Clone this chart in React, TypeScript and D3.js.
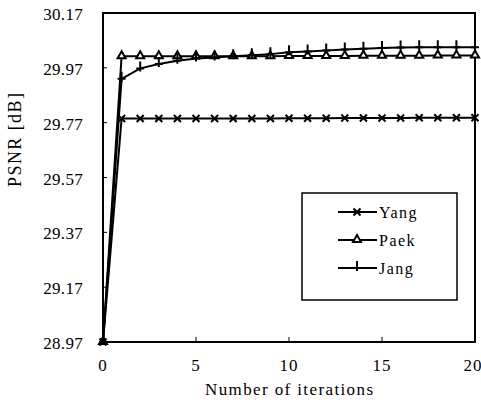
import * as d3 from 'd3';

const iterations = d3.range(0, 21);
const yang = [28.97, 29.785, 29.785, 29.785, 29.785, 29.785, 29.785, 29.785, 29.785, 29.785, 29.786, 29.786, 29.786, 29.787, 29.787, 29.787, 29.787, 29.788, 29.788, 29.788, 29.788];
const paek = [28.97, 30.012, 30.012, 30.012, 30.012, 30.012, 30.012, 30.012, 30.012, 30.012, 30.013, 30.013, 30.013, 30.013, 30.014, 30.014, 30.014, 30.014, 30.015, 30.015, 30.015];
const jang = [28.97, 29.93, 29.968, 29.984, 29.996, 30.004, 30.008, 30.012, 30.016, 30.02, 30.027, 30.03, 30.033, 30.037, 30.04, 30.042, 30.044, 30.045, 30.045, 30.045, 30.045];
const yTicks = [28.97, 29.17, 29.37, 29.57, 29.77, 29.97, 30.17];
const xTicks = [0, 5, 10, 15, 20];
const seriesNames = ['Yang', 'Paek', 'Jang'];

const W = 481, H = 404;
const M = { left: 103, right: 475, top: 13, bottom: 342 };
const font = "'Liberation Serif', 'Times New Roman', 'DejaVu Serif', serif";

function Marker({ kind, x, y }: { kind: string; x: number; y: number }) {
  if (kind === 'Yang') {
    return <path d={`M${x - 3.5},${y - 3.5}L${x + 3.5},${y + 3.5}M${x - 3.5},${y + 3.5}L${x + 3.5},${y - 3.5}`} stroke="#000" strokeWidth={2} />;
  }
  if (kind === 'Paek') {
    return <path d={`M${x},${y - 5}L${x + 4},${y + 2}L${x - 4},${y + 2}Z`} fill="#fff" stroke="#000" strokeWidth={2} />;
  }
  return <path d={`M${x},${y - 7}L${x},${y + 3}M${x - 4},${y}L${x + 4},${y}`} stroke="#000" strokeWidth={2} />;
}

export default function App() {
  const x = d3.scaleLinear().domain([0, 20]).range([M.left, M.right]);
  const y = d3.scaleLinear().domain([28.97, 30.17]).range([M.bottom, M.top]);
  const line = d3.line<number>().x((_, i) => x(iterations[i])).y(d => y(d));
  const series = [yang, paek, jang];
  const legendY = [212, 240, 268];

  return (
    <svg width={W} height={H} style={{ position: 'absolute', left: 0, top: 0, background: '#fff', fontFamily: font }}>
      <rect x={M.left} y={M.top} width={M.right - M.left} height={M.bottom - M.top} fill="none" stroke="#000" strokeWidth={2} />
      {yTicks.map(t => (
        <g key={t}>
          <line x1={M.left} x2={M.left + 4} y1={y(t)} y2={y(t)} stroke="#000" strokeWidth={1} />
          <text x={83} y={y(t) + 7} textAnchor="end" fontSize={17} letterSpacing={0.3}>{t.toFixed(2)}</text>
        </g>
      ))}
      {xTicks.map(t => (
        <g key={t}>
          <line x1={x(t)} x2={x(t)} y1={M.bottom} y2={M.bottom - 5} stroke="#000" strokeWidth={1} />
          <text x={t === 20 ? x(t) - 2 : x(t)} y={371} textAnchor="middle" fontSize={17} letterSpacing={1}>{t}</text>
        </g>
      ))}
      <text x={205} y={395} fontSize={17} textLength={168} lengthAdjust="spacing">Number of iterations</text>
      <text transform="translate(21,187) rotate(-90)" fontSize={18} textLength={94} lengthAdjust="spacing">PSNR [dB]</text>
      {series.map((s, k) => (
        <g key={k}>
          <path d={line(s) ?? ''} fill="none" stroke="#000" strokeWidth={2} />
          {s.map((v, i) => <Marker key={i} kind={seriesNames[k]} x={x(iterations[i])} y={y(v)} />)}
        </g>
      ))}
      <rect x={302} y={193} width={155} height={107} fill="#fff" stroke="#000" strokeWidth={1.5} />
      {seriesNames.map((n, k) => (
        <g key={n}>
          <line x1={338} x2={377} y1={legendY[k]} y2={legendY[k]} stroke="#000" strokeWidth={2} />
          <Marker kind={n} x={357} y={legendY[k]} />
          <text x={379} y={legendY[k] + 6} fontSize={16} letterSpacing={1.5}>{n}</text>
        </g>
      ))}
    </svg>
  );
}
